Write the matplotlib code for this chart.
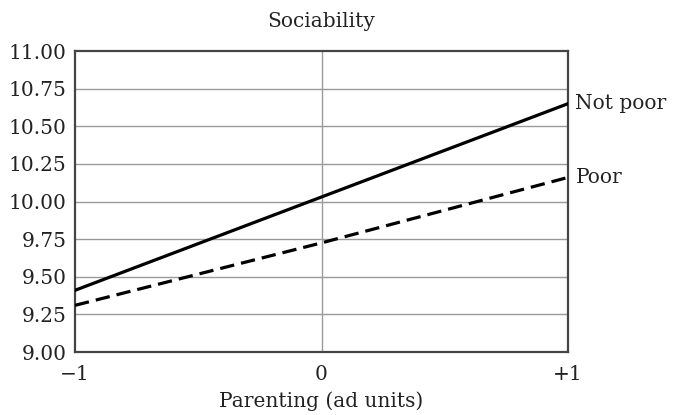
import numpy as np
import matplotlib
matplotlib.use("Agg")
import matplotlib.pyplot as plt

# Parenting (ad units) at -1, 0, +1
parenting = [-1, 0, 1]
not_poor = [9.41, 10.03, 10.65]
poor = [9.31, 9.725, 10.16]

y_ticks = [9.00, 9.25, 9.50, 9.75, 10.00, 10.25, 10.50, 10.75, 11.00]
x_ticks = [-1, 0, 1]
x_labels = ["\u22121", "0", "+1"]

plt.rcParams["font.family"] = ["DejaVu Serif"]

fig = plt.figure(figsize=(6.74, 4.15), dpi=100)
ax = fig.add_axes([75 / 674, 63 / 415, 493 / 674, 301 / 415])

for y in y_ticks[1:-1]:
    ax.axhline(y, color="#9a9a9a", lw=1.0, zorder=1)
ax.axvline(0, color="#9a9a9a", lw=1.0, zorder=1)

ax.plot(parenting, not_poor, color="black", lw=2.3, zorder=3)
ax.plot(parenting, poor, color="black", lw=2.3, ls=(0, (4.5, 2.2)), zorder=3)

ax.set_xlim(-1, 1)
ax.set_ylim(9.0, 11.0)
ax.set_yticks(y_ticks)
ax.set_yticklabels([f"{v:.2f}" for v in y_ticks])
ax.set_xticks(x_ticks)
ax.set_xticklabels(x_labels)
ax.tick_params(length=0, labelsize=14.5, colors="#222222")
ax.tick_params(axis="x", pad=9)
ax.tick_params(axis="y", pad=6)

for s in ax.spines.values():
    s.set_color("#444444")
    s.set_linewidth(1.6)

ax.text(1.015, not_poor[-1], "Not poor", transform=ax.get_yaxis_transform(),
        va="center", ha="left", fontsize=14.5, color="#222222")
ax.text(1.015, poor[-1], "Poor", transform=ax.get_yaxis_transform(),
        va="center", ha="left", fontsize=14.5, color="#222222")

ax.set_title("Sociability", fontsize=14.5, color="#222222", pad=17)
ax.set_xlabel("Parenting (ad units)", fontsize=14.5, color="#222222", labelpad=6)

fig.savefig("out.png", dpi=100)
